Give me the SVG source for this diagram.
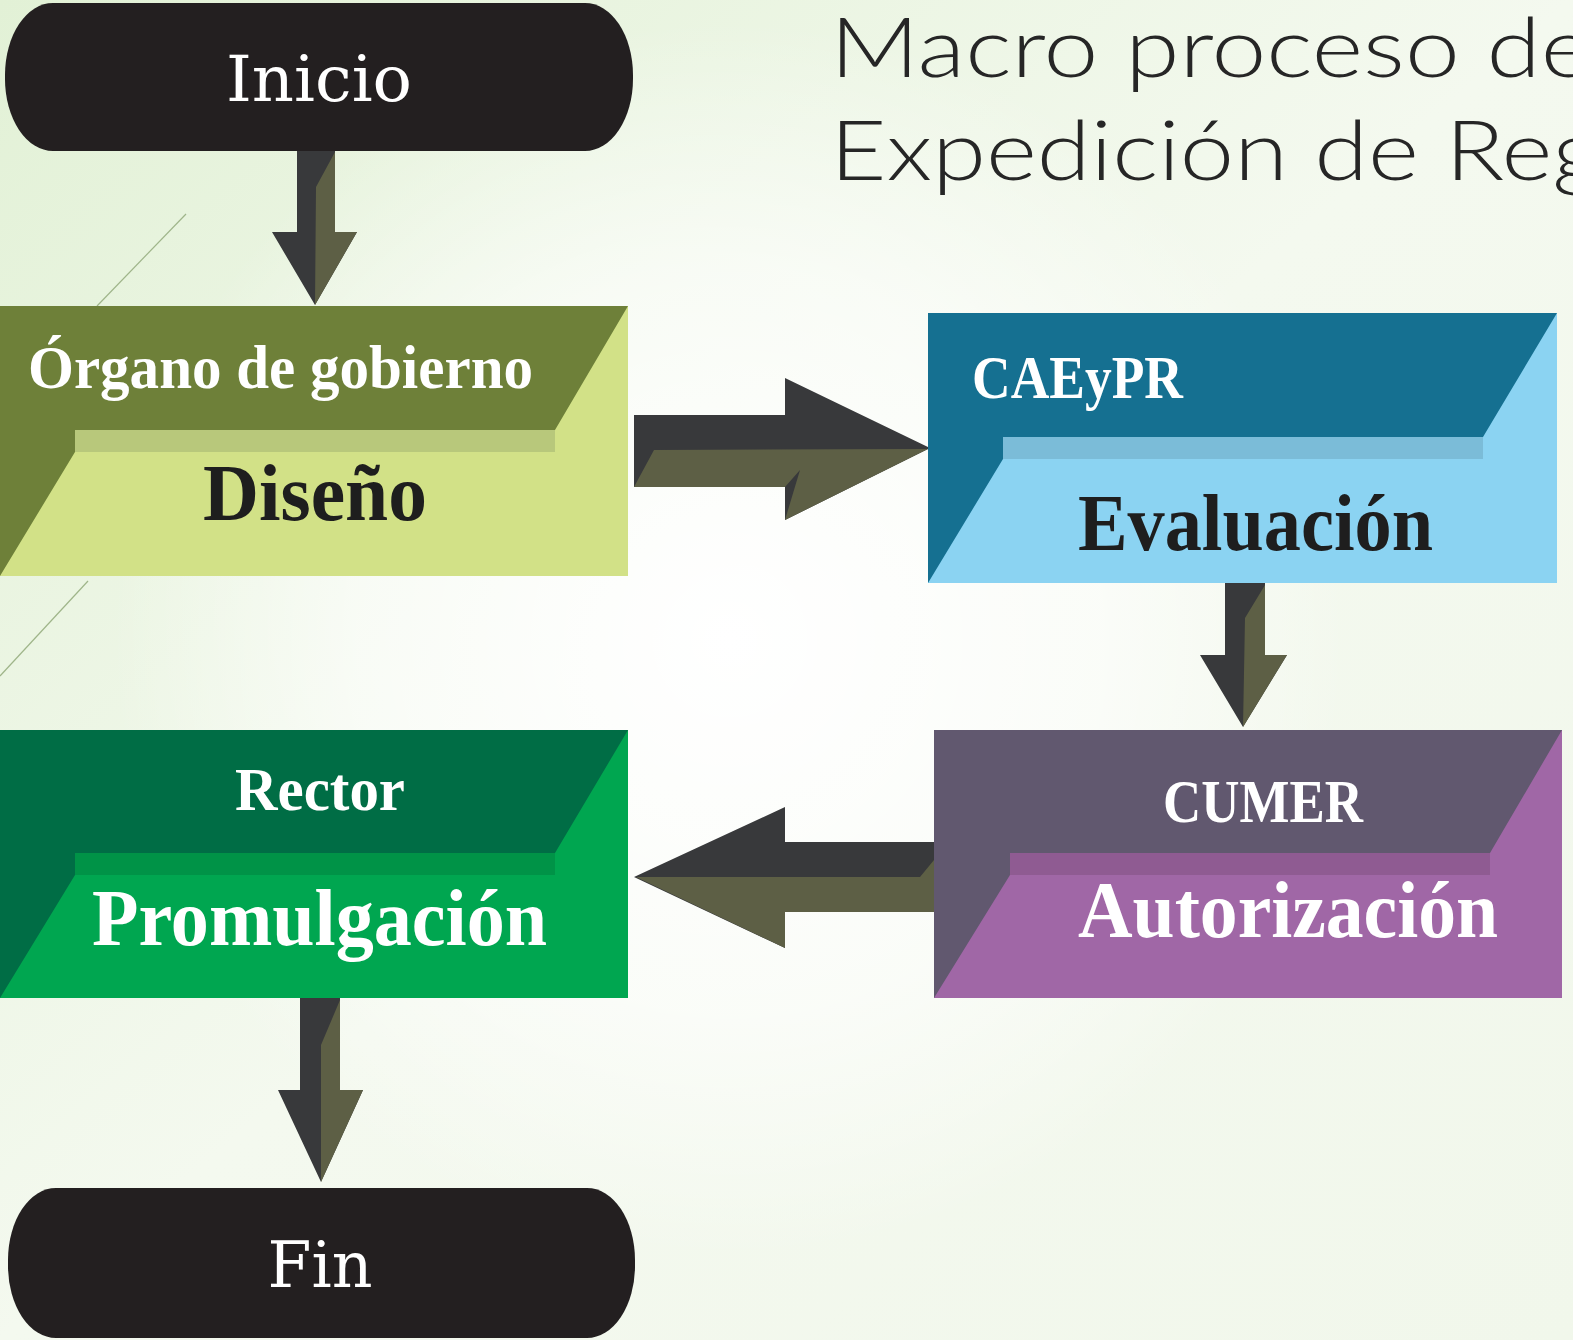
<svg xmlns="http://www.w3.org/2000/svg" width="1573" height="1340" viewBox="0 0 1573 1340">
<defs>
<linearGradient id="bg" x1="0" y1="0" x2="1" y2="1">
<stop offset="0" stop-color="#e2f1d6"/>
<stop offset="0.5" stop-color="#f4f9ef"/>
<stop offset="1" stop-color="#f1f7eb"/>
</linearGradient>
<radialGradient id="glow" cx="730" cy="640" r="620" gradientUnits="userSpaceOnUse">
<stop offset="0" stop-color="#ffffff" stop-opacity="1"/>
<stop offset="0.6" stop-color="#ffffff" stop-opacity="0.6"/>
<stop offset="1" stop-color="#ffffff" stop-opacity="0"/>
</radialGradient>
<style>
.pill{fill:#231f20}
.arD{fill:#38393b}
.arO{fill:#5d5f45}
.pillText{font-family:"DejaVu Serif","Liberation Serif",serif;font-size:64px;fill:#ffffff;text-anchor:middle}
.top{font-family:"Liberation Serif",serif;font-weight:bold;font-size:62px;fill:#ffffff}
.main{font-family:"Liberation Serif",serif;font-weight:bold;font-size:80px}
.title{font-family:"Lato","Noto Sans",sans-serif;font-weight:300;font-size:82px;fill:#262626}
.deco{stroke:#9fb58a;stroke-width:1.2;fill:none}
</style>
</defs>
<rect width="1573" height="1340" fill="url(#bg)"/>
<rect width="1573" height="1340" fill="url(#glow)"/>
<line class="deco" x1="186" y1="214" x2="97" y2="306"/>
<line class="deco" x1="88" y1="581" x2="0" y2="676"/>

<g id="title">
<text class="title" x="830" y="77" textLength="762" lengthAdjust="spacingAndGlyphs">Macro proceso de</text>
<text class="title" x="830" y="180" textLength="772" lengthAdjust="spacingAndGlyphs">Expedición de Reg</text>
</g>

<g id="connectors">
<g id="arrow-inicio-organo">
<polygon class="arD" points="297,150 335,150 335,232 357,232 315,305 272,232 297,232"/>
<polygon class="arO" points="335,152 335,232 357,232 315,305 316,187"/>
</g>
<g id="arrow-organo-caeypr">
<polygon class="arD" points="634,415 785,415 785,378 930,448 785,520 785,487 634,487"/>
<polygon class="arO" points="634,487 654,450 928,449 785,520 800,470 785,487"/>
</g>
<g id="arrow-caeypr-cumer">
<polygon class="arD" points="1225,583 1265,583 1265,655 1287,655 1243,727 1200,655 1225,655"/>
<polygon class="arO" points="1265,585 1265,655 1287,655 1243,727 1245,618"/>
</g>
<g id="arrow-cumer-rector">
<polygon class="arD" points="934,842 785,842 785,807 634,877 785,948 785,912 934,912"/>
<polygon class="arO" points="636,877 920,877 934,860 934,912 785,912 785,948"/>
</g>
<g id="arrow-rector-fin">
<polygon class="arD" points="300,998 340,998 340,1090 363,1090 321,1182 278,1090 300,1090"/>
<polygon class="arO" points="340,1000 340,1090 363,1090 321,1182 321,1045"/>
</g>
</g>

<g id="inicio">
<rect class="pill" x="5" y="3" width="628" height="148" rx="48" ry="72"/>
<text class="pillText" x="319" y="101" textLength="186" lengthAdjust="spacingAndGlyphs">Inicio</text>
</g>

<g id="organo">
<rect x="0" y="306" width="628" height="270" fill="#6e8039"/>
<polygon points="0,576 75,452 555,452 555,430 628,306 628,576" fill="#d2e187"/>
<rect x="75" y="430" width="480" height="22" fill="#b8c87b"/>
<text class="top" x="28" y="388" textLength="505" lengthAdjust="spacingAndGlyphs">Órgano de gobierno</text>
<text class="main" x="203" y="520" textLength="224" lengthAdjust="spacingAndGlyphs" fill="#1e1e1e">Diseño</text>
</g>

<g id="caeypr">
<rect x="928" y="313" width="629" height="270" fill="#157091"/>
<polygon points="928,583 1003,459 1483,459 1483,437 1557,313 1557,583" fill="#8bd3f2"/>
<rect x="1003" y="437" width="480" height="22" fill="#7bbcd8"/>
<text class="top" x="972" y="398" textLength="211" lengthAdjust="spacingAndGlyphs">CAEyPR</text>
<text class="main" x="1078" y="550" textLength="355" lengthAdjust="spacingAndGlyphs" fill="#1e1e1e">Evaluación</text>
</g>

<g id="cumer">
<rect x="934" y="730" width="628" height="268" fill="#61586f"/>
<polygon points="934,998 1010,875 1490,875 1490,853 1562,730 1562,998" fill="#a067a6"/>
<rect x="1010" y="853" width="480" height="22" fill="#8f5b92"/>
<text class="top" x="1163" y="822" textLength="200" lengthAdjust="spacingAndGlyphs">CUMER</text>
<text class="main" x="1078" y="937" textLength="420" lengthAdjust="spacingAndGlyphs" fill="#ffffff">Autorización</text>
</g>

<g id="rector">
<rect x="0" y="730" width="628" height="268" fill="#006d45"/>
<polygon points="0,998 75,875 555,875 555,853 628,730 628,998" fill="#00a650"/>
<rect x="75" y="853" width="480" height="22" fill="#009347"/>
<text class="top" x="235" y="810" textLength="170" lengthAdjust="spacingAndGlyphs">Rector</text>
<text class="main" x="92" y="945" textLength="455" lengthAdjust="spacingAndGlyphs" fill="#ffffff">Promulgación</text>
</g>

<g id="fin">
<rect class="pill" x="8" y="1188" width="627" height="150" rx="48" ry="72"/>
<text class="pillText" x="320" y="1287" textLength="105" lengthAdjust="spacingAndGlyphs">Fin</text>
</g>
</svg>
